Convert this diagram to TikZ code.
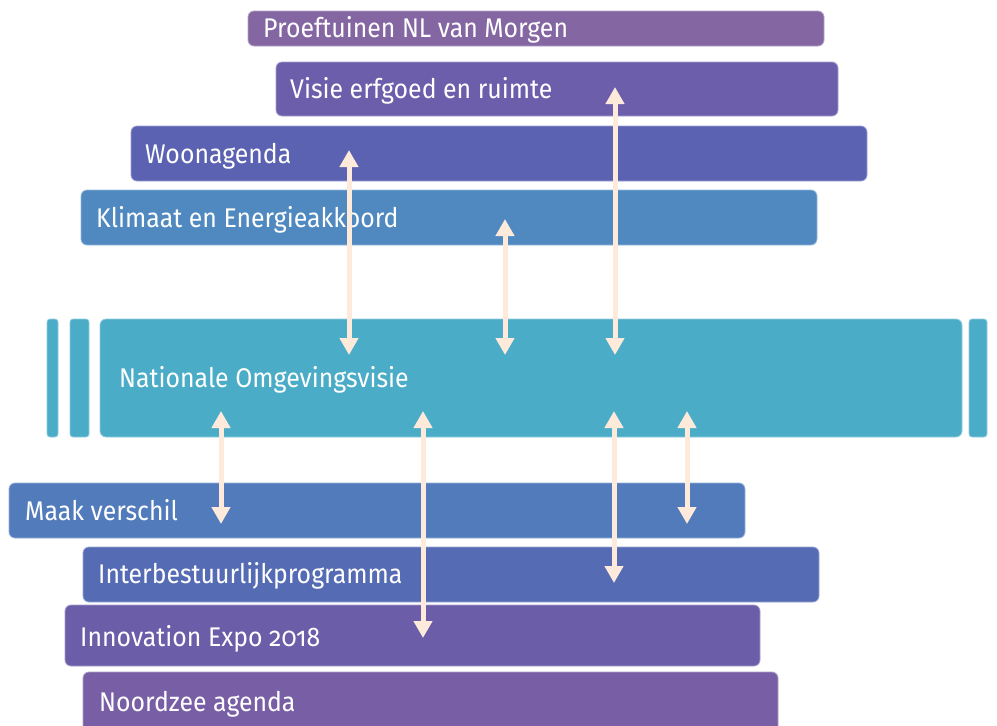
\documentclass[tikz,border=0pt]{standalone}
\usepackage{fontspec}
\setmainfont{Fira Sans}[Numbers=OldStyle,FakeStretch=0.92]
\usetikzlibrary{arrows.meta}
\definecolor{cProef}{HTML}{8366A2}
\definecolor{cVisie}{HTML}{6C5EAA}
\definecolor{cWoon}{HTML}{5B62B2}
\definecolor{cKlim}{HTML}{4F89BF}
\definecolor{cNat}{HTML}{4AACC6}
\definecolor{cMaak}{HTML}{527BBB}
\definecolor{cInter}{HTML}{556BB4}
\definecolor{cInno}{HTML}{6B5DA8}
\definecolor{cNoord}{HTML}{785FA5}
\definecolor{cArrow}{HTML}{FDEADB}
\tikzset{
  bar/.style={rectangle, rounded corners=6pt, anchor=north west, inner sep=0pt, outer sep=0pt, line width=0.8pt},
  lbl/.style={anchor=base west, inner sep=0pt, text=white, font=\fontsize{27}{30}\selectfont},
  link/.style={draw=cArrow, line width=5pt, {Triangle[width=18pt,length=17pt]}-{Triangle[width=18pt,length=17pt]}}
}
\begin{document}
\begin{tikzpicture}[x=1pt,y=-1pt]
\useasboundingbox (0,0) rectangle (997,726);
\clip (0,0) rectangle (997,726);
% top boxes
\node[bar, fill=cProef, draw=cProef!60!white, minimum width=576pt, minimum height=35pt] (proef) at (248,11) {};
\node[lbl] (tproef) at (263,37) {Proeftuinen NL van Morgen};
\node[bar, fill=cVisie, draw=cVisie!60!white, minimum width=562pt, minimum height=54pt] (visie) at (276,62) {};
\node[lbl] (tvisie) at (290,98) {Visie erfgoed en ruimte};
\node[bar, fill=cWoon, draw=cWoon!60!white, minimum width=736pt, minimum height=55pt] (woon) at (131,126) {};
\node[lbl] (twoon) at (145,163) {Woonagenda};
\node[bar, fill=cKlim, draw=cKlim!60!white, minimum width=736pt, minimum height=55pt] (klim) at (81,190) {};
\node[lbl] (tklim) at (96,227) {Klimaat en Energieakkoord};
% central band
\node[bar, rounded corners=3pt, fill=cNat, draw=cNat!60!white, minimum width=11pt, minimum height=118pt] (natl1) at (47,319) {};
\node[bar, rounded corners=3pt, fill=cNat, draw=cNat!60!white, minimum width=19pt, minimum height=118pt] (natl2) at (70,319) {};
\node[bar, fill=cNat, draw=cNat!60!white, minimum width=862pt, minimum height=118pt] (nat) at (100,319) {};
\node[bar, rounded corners=3pt, fill=cNat, draw=cNat!60!white, minimum width=18pt, minimum height=118pt] (natr) at (969,319) {};
\node[lbl] (tnat) at (119,387) {Nationale Omgevingsvisie};
% bottom boxes
\node[bar, fill=cMaak, draw=cMaak!60!white, minimum width=736pt, minimum height=55pt] (maak) at (9,483) {};
\node[lbl] (tmaak) at (25,520) {Maak verschil};
\node[bar, fill=cInter, draw=cInter!60!white, minimum width=736pt, minimum height=55pt] (inter) at (83,547) {};
\node[lbl] (tinter) at (98,583) {Interbestuurlijkprogramma};
\node[bar, fill=cInno, draw=cInno!60!white, minimum width=695pt, minimum height=61pt] (inno) at (65,605) {};
\node[lbl] (tinno) at (80,646) {Innovation Expo 2018};
\node[bar, fill=cNoord, draw=cNoord!60!white, minimum width=695pt, minimum height=70pt] (noord) at (83,672) {};
\node[lbl] (tnoord) at (99,711) {Noordzee agenda};
% arrow end points
\coordinate (w1) at (349,150);
\coordinate (n1) at (349,355);
\coordinate (k2) at (505,219);
\coordinate (n2) at (505,355);
\coordinate (v3) at (615,87);
\coordinate (n3) at (615,355);
\coordinate (n4) at (221,411);
\coordinate (m4) at (221,524);
\coordinate (n5) at (423,411);
\coordinate (i5) at (423,638);
\coordinate (n6) at (614,411);
\coordinate (b6) at (614,583);
\coordinate (n7) at (687,411);
\coordinate (m7) at (687,524);
\draw[link] (w1) -- (n1);
\draw[link] (k2) -- (n2);
\draw[link] (v3) -- (n3);
\draw[link] (n4) -- (m4);
\draw[link] (n5) -- (i5);
\draw[link] (n6) -- (b6);
\draw[link] (n7) -- (m7);
\end{tikzpicture}
\end{document}
